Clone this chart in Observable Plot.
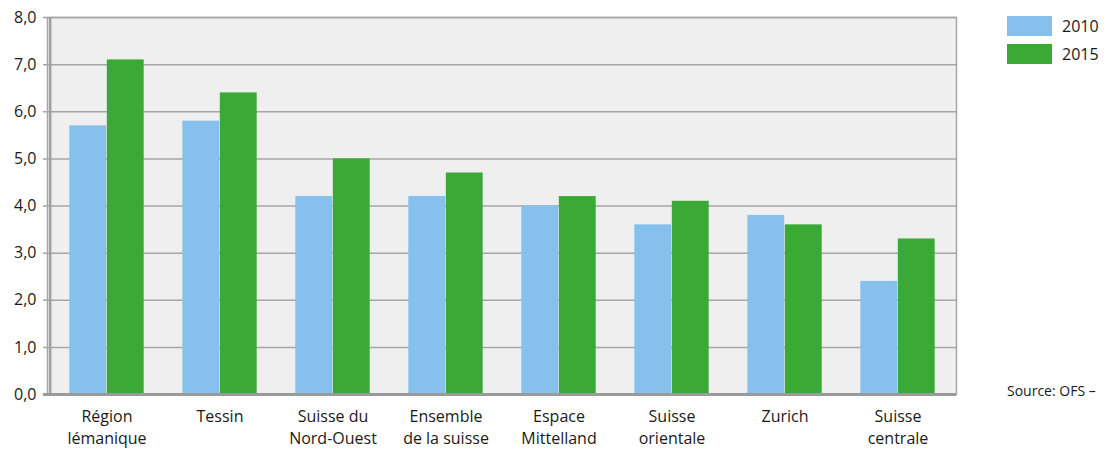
<!DOCTYPE html>
<html>
<head>
<meta charset="utf-8">
<script src="https://cdn.jsdelivr.net/npm/d3@7"></script>
<script src="https://cdn.jsdelivr.net/npm/@observablehq/plot@0.6"></script>
<style>
  html, body { margin: 0; padding: 0; background: white; }
  #wrap { position: relative; width: 1108px; height: 451px; font-family: "Open Sans", sans-serif; color: #1a1a1a; }
  #wrap svg text { font-size: 16px; font-family: "Open Sans", sans-serif; fill: #1a1a1a; }
  #legend { position: absolute; left: 1007px; top: 16px; }
  .sw { display: flex; align-items: center; height: 20px; margin-bottom: 8px; font-size: 16px; }
  .sw span.box { display: inline-block; width: 45px; height: 20px; margin-right: 10px; }
  #source { position: absolute; left: 1007px; top: 381px; font-size: 14px; }
</style>
</head>
<body>
<div id="wrap">
  <div id="legend"></div>
  <div id="source">Source: OFS –</div>
</div>
<script>
const categories = ["Région lémanique", "Tessin", "Suisse du Nord-Ouest", "Ensemble de la suisse", "Espace Mittelland", "Suisse orientale", "Zurich", "Suisse centrale"];
const tickLabels = ["Région\nlémanique", "Tessin", "Suisse du\nNord-Ouest", "Ensemble\nde la suisse", "Espace\nMittelland", "Suisse\norientale", "Zurich", "Suisse\ncentrale"];
const values2010 = [5.7, 5.8, 4.2, 4.2, 4.0, 3.6, 3.8, 2.4];
const values2015 = [7.1, 6.4, 5.0, 4.7, 4.2, 4.1, 3.6, 3.3];
const years = ["2010", "2015"];
const colors = ["#85c1ec", "#3aa935"];
const yTicks = [0, 1, 2, 3, 4, 5, 6, 7, 8];

const W = 1108, H = 451, mL = 47, mR = 152, mT = 17, mB = 57;
const bw = (W - mL - mR) / categories.length;
const outer = bw * 0.17, inner = bw * 0.5;

const d2010 = categories.map((c, i) => ({cat: c, v: values2010[i]}));
const d2015 = categories.map((c, i) => ({cat: c, v: values2015[i]}));

const chart = Plot.plot({
  width: W, height: H,
  marginLeft: mL, marginRight: mR, marginTop: mT, marginBottom: mB,
  style: {fontFamily: "'Open Sans', sans-serif", fontSize: "16px", color: "#1a1a1a", background: "transparent", overflow: "visible"},
  x: {domain: categories, padding: 0},
  y: {domain: [0, 8]},
  marks: [
    Plot.frame({fill: "#efefef", stroke: null}),
    Plot.ruleY(yTicks.filter(d => d > 0), {stroke: "#a6a6a6", strokeWidth: 1.5, insetLeft: -4}),
    Plot.barY(d2010, {x: "cat", y: "v", fill: colors[0], insetLeft: outer, insetRight: inner}),
    Plot.barY(d2015, {x: "cat", y: "v", fill: colors[1], insetLeft: inner, insetRight: outer}),
    Plot.frame({stroke: "#a6a6a6", strokeWidth: 1.5}),
    Plot.ruleX([categories[0]], {stroke: "#a0a0a0", strokeWidth: 2.5, dx: -bw / 2}),
    Plot.ruleY([0], {stroke: "#9a9a9a", strokeWidth: 3, insetLeft: -4}),
    Plot.axisX({tickSize: 0, tickPadding: 12, label: null, fontSize: 16, lineHeight: 1.375,
      tickFormat: d => tickLabels[categories.indexOf(d)]}),
    Plot.axisY({ticks: yTicks, tickSize: 0, tickPadding: 11, label: null, fontSize: 16,
      tickFormat: d => d.toFixed(1).replace(".", ",")})
  ]
});
const wrap = document.getElementById("wrap");
wrap.insertBefore(chart, wrap.firstChild);

const leg = document.getElementById("legend");
years.forEach((y, i) => {
  const row = document.createElement("div");
  row.className = "sw";
  row.innerHTML = `<span class="box" style="background:${colors[i]}"></span>${y}`;
  leg.appendChild(row);
});
</script>
</body>
</html>
